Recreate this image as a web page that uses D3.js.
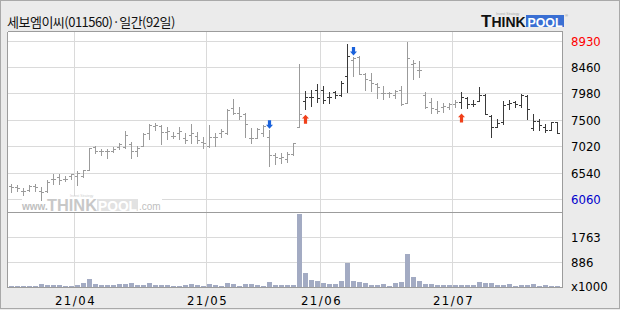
<!DOCTYPE html>
<html><head><meta charset="utf-8">
<script src="https://cdn.jsdelivr.net/npm/d3@7"></script>
<style>html,body{margin:0;padding:0;background:#ebebeb;}svg{display:block;}</style>
</head><body>
<script>
const title = "세보엠이씨(011560)·일간(92일)";
const dates = ["03/17","03/18","03/19","03/22","03/23","03/24","03/25","03/26","03/29","03/30","03/31",
"04/01","04/02","04/05","04/06","04/07","04/08","04/09","04/12","04/13","04/14","04/15","04/16","04/19","04/20","04/21","04/22","04/23","04/26","04/27","04/28","04/29","04/30",
"05/03","05/04","05/06","05/07","05/10","05/11","05/12","05/13","05/14","05/17","05/18","05/20","05/21","05/24","05/25","05/26","05/27","05/28","05/31",
"06/01","06/02","06/03","06/04","06/07","06/08","06/09","06/10","06/11","06/14","06/15","06/16","06/17","06/18","06/21","06/22","06/23","06/24","06/25","06/28","06/29","06/30",
"07/01","07/02","07/05","07/06","07/07","07/08","07/09","07/12","07/13","07/14","07/15","07/16","07/19","07/20","07/21","07/22","07/23","07/26"];
const open  = [6300,6280,6210,6240,6300,6210,6210,6430,6460,6440,6480,6480,6480,6590,7010,6950,6940,6940,7010,7010,7060,6950,7030,7260,7390,7390,7280,7210,7260,7170,7230,7210,7100,7030,7190,7260,7260,7720,7630,7610,7170,7170,7260,7190,6860,6810,6790,6880,7370,7850,7930,8050,8040,7930,8010,7960,8300,8600,8650,8340,8230,8150,7990,7990,7960,8050,7820,8520,8410,7960,7830,7700,7740,7740,7790,7830,7900,7790,7850,7960,7570,7370,7460,7790,7830,7770,7940,7360,7490,7380,7330,7470];
const high  = [6350,6320,6260,6320,6350,6280,6410,6520,6530,6480,6530,6570,6590,6990,7030,6970,6970,7010,7080,7300,7100,7030,7260,7430,7450,7410,7370,7280,7370,7260,7430,7280,7190,7410,7260,7340,7700,7890,7740,7630,7360,7360,7410,7320,6900,6900,6920,7080,8520,8030,8040,8150,8120,8010,8030,8210,8890,8650,8660,8360,8360,8180,8120,8020,8050,8120,8930,8600,8570,8020,7900,7850,7810,7810,7870,8010,7920,7870,8100,7980,7590,7530,7850,7870,7850,7980,7960,7610,7530,7430,7470,7470];
const low   = [6190,6220,6150,6210,6220,6060,6190,6350,6350,6390,6430,6330,6460,6590,6900,6860,6810,6920,6970,6990,6810,6850,7030,7160,7320,7060,7160,7170,7160,7080,7080,7080,6990,7010,7030,7190,7250,7610,7520,7190,7080,7170,7210,6660,6700,6720,6740,6860,7370,7710,7750,7840,7810,7810,7900,7940,8020,8310,8340,8050,8030,7900,7880,7930,7910,7780,7810,8240,8280,7720,7640,7630,7650,7700,7740,7730,7720,7760,7850,7620,7200,7370,7440,7710,7740,7740,7520,7320,7330,7290,7330,7260];
const close = [6280,6260,6220,6300,6280,6190,6370,6440,6410,6440,6520,6550,6590,6990,6950,6940,6940,6970,7060,7230,6950,6990,7250,7410,7410,7280,7300,7210,7300,7140,7260,7140,7080,7190,7190,7300,7680,7630,7570,7430,7170,7340,7390,6860,6830,6830,6880,7080,7610,7930,7930,7900,7870,7930,7950,8180,8670,8630,8340,8240,8180,8110,7990,7990,8030,7790,8630,8540,8410,7740,7730,7670,7760,7790,7830,7920,7790,7790,7960,7620,7370,7450,7770,7820,7790,7960,7700,7490,7410,7330,7470,7270];
const volume = [55,50,60,55,50,124,100,89,89,65,53,100,148,301,124,89,89,89,124,124,159,89,89,159,89,89,89,65,65,89,124,89,65,124,89,65,159,124,65,124,124,89,65,195,89,89,89,89,2606,526,266,230,159,136,136,230,881,219,195,159,89,89,124,65,171,207,1189,384,242,124,124,89,89,89,89,89,89,89,207,148,171,89,89,124,53,89,89,124,53,89,53,53];
const buySignals = ["05/27","07/02"];
const sellSignals = ["05/18","06/08"];
const priceTicks = [8930,8460,7980,7500,7020,6540,6060];
const volTicks = [1763,886];
const monthTickDates = ["04/01","05/03","06/01","07/01"];
const monthTickLabels = ["21/04","21/05","21/06","21/07"];

const W=620,H=310;
const svg = d3.select("body").append("svg").attr("width",W).attr("height",H);
svg.append("rect").attr("x",0.5).attr("y",0.5).attr("width",619).attr("height",308)
  .attr("fill","#ebebeb").attr("stroke","#a9a9a9");

const L=7.5,R=562.5,T=31.5,SEP=212.5,B=287.5;
svg.append("rect").attr("x",L).attr("y",T).attr("width",R-L).attr("height",B-T).attr("fill","#fff");

const x = d3.scaleBand().domain(dates).range([8.5, 8.5+6*dates.length]);
const cx = d => Math.floor(x(d)+3);
const yP = d3.scaleLinear().domain([6060,8930]).range([199.5,41.5]);
const yV = d3.scaleLinear().domain([0,2658]).range([287.5,212.5]);
const snap = v => Math.floor(v)+0.5;

const grid = svg.append("g").attr("stroke","#dadada").attr("shape-rendering","crispEdges");
priceTicks.forEach(t=>grid.append("line").attr("x1",L).attr("x2",R).attr("y1",snap(yP(t))).attr("y2",snap(yP(t))));
volTicks.forEach(t=>grid.append("line").attr("x1",L).attr("x2",R).attr("y1",snap(yV(t))).attr("y2",snap(yV(t))));
monthTickDates.forEach(d=>grid.append("line").attr("x1",x(d)).attr("x2",x(d)).attr("y1",T).attr("y2",B));

// watermark
const wm = svg.append("g");
wm.append("rect").attr("x",22).attr("y",196).attr("width",140).attr("height",16).attr("fill","#fff");
wm.append("text").attr("x",22).attr("y",210).attr("font-family","Liberation Sans, Arial, sans-serif").attr("font-size",10).attr("font-weight","bold").attr("fill","#c0c0c0").text("www.");
wm.append("text").attr("x",47).attr("y",211).attr("font-family","Liberation Sans, Arial, sans-serif").attr("font-size",16).attr("font-weight","900").attr("fill","#c8c8c8").attr("textLength",50).attr("lengthAdjust","spacingAndGlyphs").text("THINK");
wm.append("rect").attr("x",97).attr("y",199).attr("width",41).attr("height",12).attr("fill","#e2e2e2");
wm.append("text").attr("x",98).attr("y",210.5).attr("font-family","Liberation Sans, Arial, sans-serif").attr("font-size",14).attr("font-weight","900").attr("fill","#fff").attr("textLength",39).attr("lengthAdjust","spacingAndGlyphs").text("POOL");
wm.append("text").attr("x",139).attr("y",210).attr("font-family","Liberation Sans, Arial, sans-serif").attr("font-size",10).attr("fill","#c0c0c0").text(".com");
wm.append("text").attr("x",70).attr("y",196.5).attr("font-family","Liberation Sans, Arial, sans-serif").attr("font-size",3.5).attr("fill","#d0d0d0").text("Invest Strategy");

// borders
const bd = svg.append("g").attr("stroke","#9c9c9c").attr("shape-rendering","crispEdges");
[[L,T,R,T],[L,T,L,B],[R,T,R,B],[L,B,R,B],[L,SEP,R,SEP]].forEach(a=>bd.append("line").attr("x1",a[0]).attr("y1",a[1]).attr("x2",a[2]).attr("y2",a[3]));

// holding state for bar colour
let holding=false; const dark=[];
dates.forEach(d=>{ if(buySignals.includes(d)) holding=true; if(sellSignals.includes(d)) holding=false; dark.push(holding); });

// volume
svg.append("g").attr("shape-rendering","crispEdges").selectAll("rect").data(dates).join("rect")
  .attr("x",d=>cx(d)-2).attr("width",5)
  .attr("y",(d,i)=>Math.round(yV(volume[i])))
  .attr("height",(d,i)=>Math.max(1,287-Math.round(yV(volume[i]))))
  .attr("fill","#a3abc3");

// OHLC bars
const bars = svg.append("g").attr("shape-rendering","crispEdges");
dates.forEach((d,i)=>{
  const c = dark[i] ? "#3a3a3a" : "#9b9b9b";
  const yh=Math.round(yP(high[i])), yl=Math.round(yP(low[i]));
  bars.append("rect").attr("x",cx(d)).attr("width",1).attr("y",yh).attr("height",Math.max(1,yl-yh+1)).attr("fill",c);
  bars.append("rect").attr("x",cx(d)-2).attr("width",2).attr("y",Math.round(yP(open[i]))).attr("height",1).attr("fill",c);
  bars.append("rect").attr("x",cx(d)+1).attr("width",2).attr("y",Math.round(yP(close[i]))).attr("height",1).attr("fill",c);
});

// signals
buySignals.forEach(d=>{
  const i=dates.indexOf(d), c=cx(d)+0.5, t=yP(low[i])+6;
  svg.append("path").attr("fill","#f0401a")
    .attr("d",`M${c},${t} L${c+3.5},${t+3.8} L${c+1.6},${t+3.8} L${c+1.6},${t+9} L${c-1.6},${t+9} L${c-1.6},${t+3.8} L${c-3.5},${t+3.8} Z`);
});
sellSignals.forEach(d=>{
  const i=dates.indexOf(d), c=cx(d)+0.5, b=yP(high[i])-1.5;
  svg.append("path").attr("fill","#1a62dc")
    .attr("d",`M${c},${b} L${c+3.5},${b-3.8} L${c+1.6},${b-3.8} L${c+1.6},${b-8.5} L${c-1.6},${b-8.5} L${c-1.6},${b-3.8} L${c-3.5},${b-3.8} Z`);
});

// right axis labels
const lf = "'Liberation Sans Narrow', 'DejaVu Sans Condensed', Arial, sans-serif";
priceTicks.forEach((t,k)=>{
  svg.append("text").attr("x",571).attr("y",yP(t)).attr("dy","0.36em")
    .attr("font-family",lf).attr("font-size",13)
    .attr("fill", k===0?"#ff0000":(k===priceTicks.length-1?"#0000cc":"#000"))
    .text(t);
});
volTicks.forEach(t=>{
  svg.append("text").attr("x",571).attr("y",yV(t)).attr("dy","0.36em").attr("font-family",lf).attr("font-size",13).attr("fill","#000").text(t);
});
svg.append("text").attr("x",571).attr("y",286).attr("dy","0.36em").attr("font-family",lf).attr("font-size",13).attr("fill","#000").text("x1000");

// date labels
monthTickDates.forEach((d,k)=>{
  svg.append("text").attr("x",x(d)+1).attr("y",300).attr("dy","0.36em").attr("text-anchor","middle")
    .attr("font-family",lf).attr("font-size",13).attr("letter-spacing",1.5).attr("fill","#000").text(monthTickLabels[k]);
});

// title
svg.append("text").attr("x",7).attr("y",27).attr("font-family","'Noto Sans CJK KR', sans-serif").attr("font-size",13).attr("letter-spacing",-0.5).attr("fill","#111").text(title);

// logo
const lg = svg.append("g");
lg.append("text").attr("x",481).attr("y",27).attr("font-family","Liberation Sans, Arial, sans-serif").attr("font-weight","900").attr("fill","#111")
  .call(t=>{t.append("tspan").attr("font-size",17).text("T"); t.append("tspan").attr("font-size",14).text("HINK");});
lg.append("rect").attr("x",526).attr("y",15).attr("width",38).attr("height",12).attr("fill","#3a6fd3");
lg.append("text").attr("x",527.5).attr("y",26.5).attr("font-family","Liberation Sans, Arial, sans-serif").attr("font-weight","900").attr("font-size",13.5).attr("fill","#fff").attr("textLength",35).attr("lengthAdjust","spacingAndGlyphs").text("POOL");
lg.append("text").attr("x",565).attr("y",17).attr("font-family","Liberation Sans, Arial, sans-serif").attr("font-size",4).attr("fill","#888").text("®");
lg.append("text").attr("x",496).attr("y",14.5).attr("font-family","Liberation Sans, Arial, sans-serif").attr("font-size",3.5).attr("fill","#aaa").text("Invest Strategy");
</script>
</body></html>
